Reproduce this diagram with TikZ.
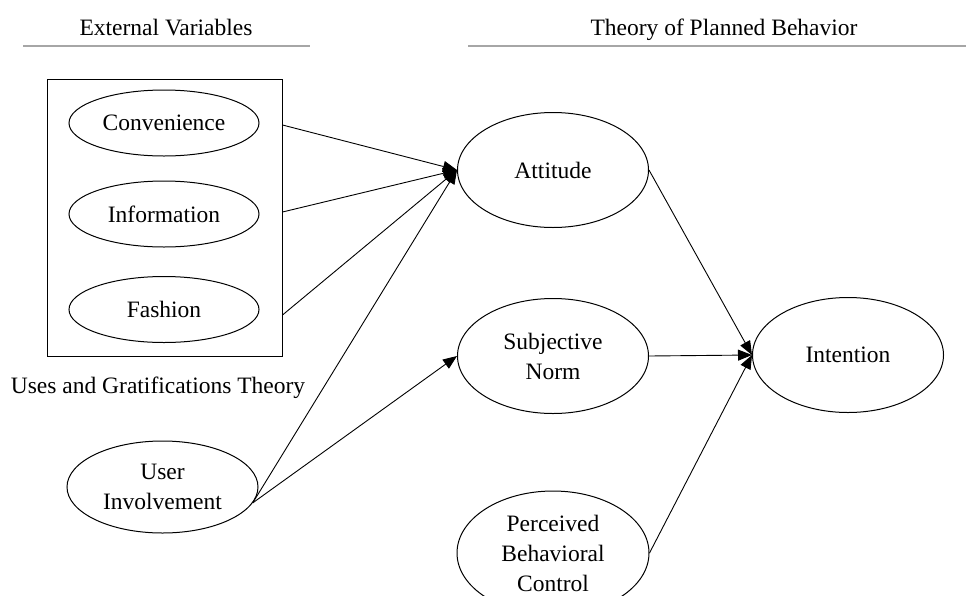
\documentclass[tikz,border=0pt]{standalone}
\usepackage{fontspec}
\setmainfont{Liberation Serif}
\usetikzlibrary{shapes.geometric,arrows.meta}
\begin{document}
\begin{tikzpicture}[x=1pt,y=-1pt,
  every node/.style={font=\fontsize{23.5}{30}\selectfont},
  ell/.style={draw,ellipse,line width=1pt,inner sep=0pt,align=center},
  small/.style={ell,minimum width=190pt,minimum height=66pt},
  big/.style={ell,minimum width=191pt,minimum height=115pt},
  arr/.style={line width=0.9pt,-{Triangle[length=14pt,width=11pt]}},
  hline/.style={line width=2.6pt,gray!70}]
\useasboundingbox (0,0) rectangle (966,595);
\node[anchor=base] (hev) at (166,35) {External Variables};
\node[anchor=base] (htp) at (724,35) {Theory of Planned Behavior};
\coordinate (l1a) at (23,46); \coordinate (l1b) at (310,46);
\coordinate (l2a) at (468,46); \coordinate (l2b) at (966,46);
\draw[hline] (l1a) -- (l1b);
\draw[hline] (l2a) -- (l2b);
\node[draw,line width=1pt,minimum width=235pt,minimum height=277pt,inner sep=0pt] (box) at (164.5,217.5) {};
\node[small] (conv) at (164,123) {Convenience};
\node[small] (info) at (164,214) {Information};
\node[small] (fash) at (164,309.5) {Fashion};
\node[anchor=base] (ugt) at (158,393) {Uses and Gratifications Theory};
\node[ell,minimum width=191pt,minimum height=92pt] (ui) at (162.5,487) {User\\Involvement};
\node[big] (att) at (553,170) {Attitude};
\node[big] (sn) at (553,356) {Subjective\\Norm};
\node[ell,minimum width=192pt,minimum height=124pt] (pbc) at (553,553) {Perceived\\Behavioral\\Control};
\node[big] (int) at (848,355) {Intention};
\coordinate (s1) at (box.east |- 0,125);
\coordinate (s2) at (box.east |- 0,212);
\coordinate (s3) at (box.east |- 0,315);
\draw[arr] (s1) -- (att.west);
\draw[arr] (s2) -- (att.west);
\draw[arr] (s3) -- (att.west);
\draw[arr] (ui.-10) -- (att.west);
\draw[arr] (ui.-10) -- (sn.west);
\draw[arr] (att.east) -- (int.west);
\draw[arr] (sn.east) -- (int.west);
\draw[arr] (pbc.east) -- (int.west);
\end{tikzpicture}
\end{document}
